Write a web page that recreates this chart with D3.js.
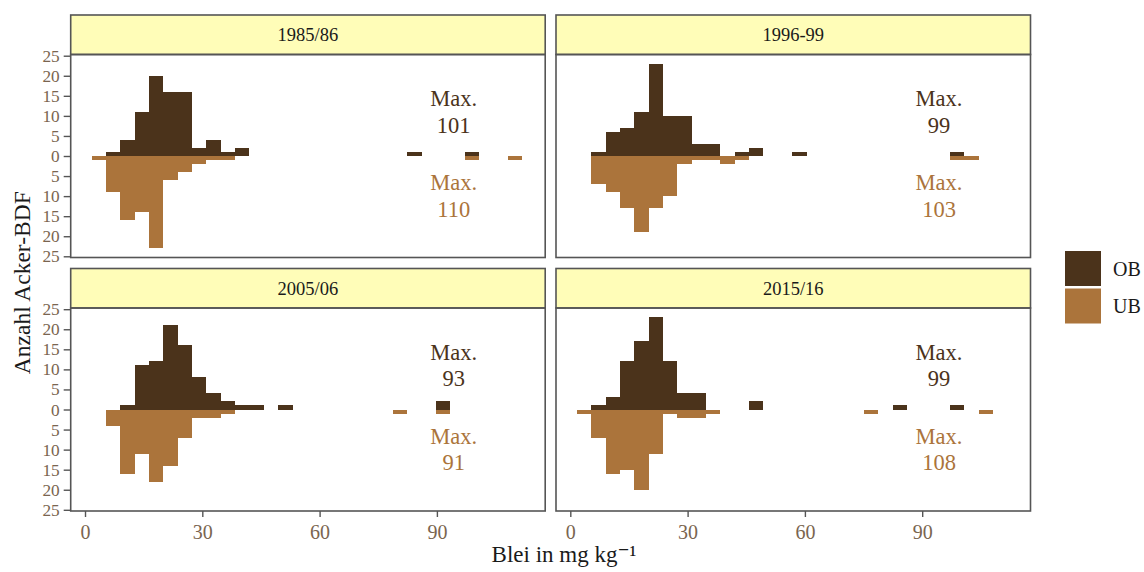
<!DOCTYPE html>
<html>
<head>
<meta charset="utf-8">
<script src="https://cdn.jsdelivr.net/npm/d3@7/dist/d3.min.js"></script>
<style>
  body { margin: 0; background: #fff; }
  svg { display: block; }
  svg text { font-family: "Liberation Serif", "Times New Roman", "DejaVu Serif", serif !important; }
</style>
</head>
<body>
<svg id="chart" width="1144" height="572"></svg>
<script>
// facet labels, in the order top-left, top-right, bottom-left, bottom-right
const periods = ['1985/86', '1996-99', '2005/06', '2015/16'];
const groups = ['OB', 'UB'];

// histogram grid: 30 bins
const binStart = 1.664;
const binWidth = 3.672;

// counts per bin (bin 0 .. bin 29), one row per period
const countsOB = [
  [0,1,4,11,20,16,16,2,4,1,2,0,0,0,0,0,0,0,0,0,0,0,1,0,0,0,1,0,0,0],
  [0,1,6,7,11,23,10,10,3,3,0,1,2,0,0,1,0,0,0,0,0,0,0,0,0,0,1,0,0,0],
  [0,0,1,11,12,21,16,8,4,2,1,1,0,1,0,0,0,0,0,0,0,0,0,0,2,0,0,0,0,0],
  [0,1,3,12,17,23,12,4,4,0,0,0,2,0,0,0,0,0,0,0,0,0,1,0,0,0,1,0,0,0]
];
const countsUB = [
  [1,9,16,14,23,6,4,2,1,1,0,0,0,0,0,0,0,0,0,0,0,0,0,0,0,0,1,0,0,1],
  [0,7,9,13,19,13,10,2,1,1,2,1,0,0,0,0,0,0,0,0,0,0,0,0,0,0,1,1,0,0],
  [0,4,16,11,18,14,7,2,2,1,0,0,0,0,0,0,0,0,0,0,0,1,0,0,1,0,0,0,0,0],
  [1,7,16,15,20,11,1,2,2,1,0,0,0,0,0,0,0,0,0,0,1,0,0,0,0,0,0,0,1,0]
];

// maximum values written in each panel
const maxOB = [101, 99, 93, 99];
const maxUB = [110, 103, 91, 108];

const xTicks = [0, 30, 60, 90];
const yTicks = [-25, -20, -15, -10, -5, 0, 5, 10, 15, 20, 25];

const colors = { OB: '#4b331b', UB: '#ab743b' };
const tickColor = '#7a654f';
const serif = '"Liberation Serif", "Times New Roman", serif';

// layout
const colX = [70.7, 556];
const rowY = [15, 268.5];
const panelW = 474.5;
const stripH = 39.5;
const plotH = 203;

const svg = d3.select('#chart');

const x = d3.scaleLinear().domain([-3.66, 117.7]).range([0, panelW]);
const y = d3.scaleLinear().domain([-25.3, 25.3]).range([plotH, 0]);

periods.forEach((period, i) => {
    const col = i % 2, row = Math.floor(i / 2);
    const px = colX[col], py = rowY[row];

    const g = svg.append('g').attr('transform', `translate(${px},${py})`);

    // strip
    g.append('rect')
        .attr('x', 0).attr('y', 0)
        .attr('width', panelW).attr('height', stripH)
        .attr('fill', '#fffdb8')
        .attr('stroke', '#555').attr('stroke-width', 1.6);
    g.append('text')
        .attr('x', panelW / 2).attr('y', stripH / 2)
        .attr('dy', '0.35em')
        .attr('text-anchor', 'middle')
        .style('font-family', serif)
        .attr('font-size', 18.5)
        .attr('fill', '#1a1a1a')
        .text(period);

    const plot = g.append('g').attr('transform', `translate(0,${stripH})`);

    const bins = (counts, sign) => counts.map((c, k) => ({
        x0: binStart + k * binWidth,
        x1: binStart + (k + 1) * binWidth,
        v: c * sign
    })).filter(d => d.v !== 0);

    plot.selectAll('rect.ob')
        .data(bins(countsOB[i], 1)).enter()
        .append('rect').attr('class', 'ob')
        .attr('x', d => x(d.x0))
        .attr('width', d => x(d.x1) - x(d.x0))
        .attr('y', d => y(d.v))
        .attr('height', d => y(0) - y(d.v))
        .attr('fill', colors.OB)
        .attr('shape-rendering', 'crispEdges');

    plot.selectAll('rect.ub')
        .data(bins(countsUB[i], -1)).enter()
        .append('rect').attr('class', 'ub')
        .attr('x', d => x(d.x0))
        .attr('width', d => x(d.x1) - x(d.x0))
        .attr('y', y(0))
        .attr('height', d => y(d.v) - y(0))
        .attr('fill', colors.UB)
        .attr('shape-rendering', 'crispEdges');

    // max labels
    const lx = x(94.3);
    const zero = y(0);
    const lab = [
        { g: 'OB', lines: ['Max.', maxOB[i]], base: zero - 50 },
        { g: 'UB', lines: ['Max.', maxUB[i]], base: zero + 34 }
    ];
    lab.forEach(l => {
        l.lines.forEach((t, j) => {
            plot.append('text')
                .attr('x', lx).attr('y', l.base + j * 26.7)
                .attr('text-anchor', 'middle')
                .style('font-family', serif)
                .attr('font-size', 22.5)
                .attr('fill', colors[l.g])
                .text(t);
        });
    });

    // panel border
    plot.append('rect')
        .attr('x', 0).attr('y', 0)
        .attr('width', panelW).attr('height', plotH)
        .attr('fill', 'none')
        .attr('stroke', '#555').attr('stroke-width', 1.6);

    // y axis on left column
    if (col === 0) {
        const ya = d3.axisLeft(y).tickValues(yTicks).tickSize(7).tickPadding(4)
            .tickFormat(d => Math.abs(d));
        const yg = plot.append('g').call(ya).attr('font-family', null).attr('font-size', null);
        yg.select('.domain').remove();
        yg.selectAll('line').attr('stroke', '#555').attr('stroke-width', 1.4);
        yg.selectAll('text')
            .style('font-family', serif)
            .attr('font-size', 17.3).attr('fill', tickColor);
    }

    // x axis on bottom row
    if (row === 1) {
        const xa = d3.axisBottom(x).tickValues(xTicks).tickSize(6).tickPadding(8);
        const xg = plot.append('g').attr('transform', `translate(0,${plotH})`).call(xa)
            .attr('font-family', null).attr('font-size', null);
        xg.select('.domain').remove();
        xg.selectAll('line').attr('stroke', '#555').attr('stroke-width', 1.4);
        xg.selectAll('text')
            .style('font-family', serif)
            .attr('font-size', 20).attr('fill', tickColor);
    }
});

// axis titles
svg.append('text')
    .attr('transform', `translate(30,${(rowY[0] + stripH + rowY[1] + stripH + plotH) / 2}) rotate(-90)`)
    .attr('text-anchor', 'middle')
    .style('font-family', serif)
    .attr('font-size', 23.5)
    .attr('fill', '#1a1a1a')
    .text('Anzahl Acker-BDF');

svg.append('text')
    .attr('x', 564).attr('y', 562)
    .attr('text-anchor', 'middle')
    .style('font-family', serif)
    .attr('font-size', 23)
    .attr('fill', '#1a1a1a')
    .text('Blei in mg kg⁻¹');

// legend
const legend = svg.append('g').attr('transform', 'translate(1065,251)');
groups.forEach((k, j) => {
    legend.append('rect')
        .attr('x', 0).attr('y', j * 37.5)
        .attr('width', 36).attr('height', 35)
        .attr('fill', colors[k]);
    legend.append('text')
        .attr('x', 48).attr('y', j * 37.5 + 17.5)
        .attr('dy', '0.35em')
        .style('font-family', serif)
        .attr('font-size', 20)
        .attr('fill', '#1a1a1a')
        .text(k);
});
</script>
</body>
</html>
